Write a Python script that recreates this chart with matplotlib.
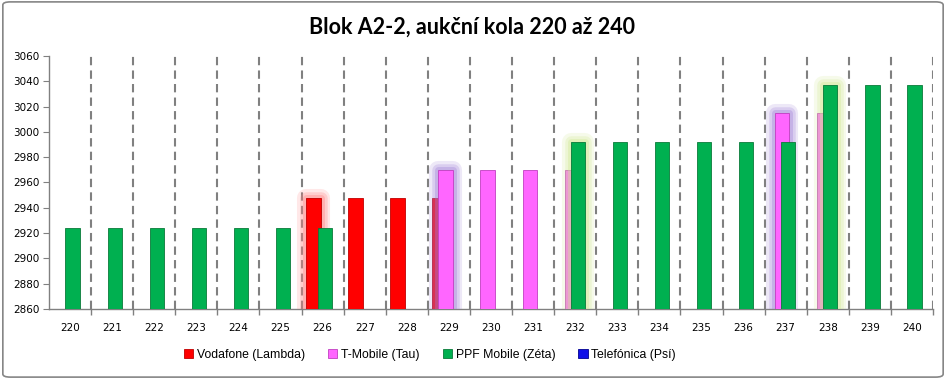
import numpy as np
import matplotlib.pyplot as plt
import matplotlib.patheffects as pe
from matplotlib.patches import FancyBboxPatch

# aukční kola
kola = list(range(220, 241))

nan = np.nan
vodafone = [nan]*6 + [2948, 2948, 2948, 2948] + [nan]*11
tmobile = [nan]*9 + [2970, 2970, 2970, 2970] + [nan]*4 + [3015, 3015] + [nan]*2
ppf = [2924]*7 + [nan]*5 + [2992]*6 + [3037]*3
telefonica = [nan]*21

# kola, kde je sloupec zvýrazněný (nový vedoucí)
hl_vodafone = [226]
hl_tmobile = [229, 237]
hl_ppf = [232, 238]

serie = [
    ("Vodafone (Lambda)", vodafone, hl_vodafone, "#ff0000", "#c00000", "#ff8080"),
    ("T-Mobile (Tau)", tmobile, hl_tmobile, "#ff66ff", "#c040c0", "#a080d8"),
    ("PPF Mobile (Zéta)", ppf, hl_ppf, "#00b050", "#0a7a3a", "#cfe890"),
    ("Telefónica (Psí)", telefonica, [], "#1010e8", "#000090", "#9999ff"),
]
offsets = [-0.22, -0.08, 0.06, 0.20]
sirka = 0.34

fig = plt.figure(figsize=(9.46, 3.79), dpi=100)
ax = fig.add_axes([49/946, 1-309/379, (933-49)/946, (309-56)/379])

x = np.arange(len(kola))
for i, (nazev, vals, hl, barva, okraj, glow) in enumerate(serie):
    bars = ax.bar(x + offsets[i], vals, width=sirka, bottom=0, color=barva,
                  edgecolor=okraj, linewidth=0.6, label=nazev, zorder=3 + i)
    for b, k in zip(bars, kola):
        if k in hl:
            b.set_path_effects([
                pe.Stroke(linewidth=13, foreground=glow, alpha=0.18, joinstyle='round'),
                pe.Stroke(linewidth=9, foreground=glow, alpha=0.25, joinstyle='round'),
                pe.Stroke(linewidth=5, foreground=glow, alpha=0.35, joinstyle='round'),
                pe.Normal()])

ax.set_ylim(2860, 3060)
ax.set_yticks(range(2860, 3061, 20))
ax.set_xlim(-0.5, len(kola) - 0.5)
ax.set_xticks(x)
ax.set_xticklabels([str(k) for k in kola])
ax.set_xticks(np.arange(0.5, len(kola), 1), minor=True)
ax.tick_params(axis='x', which='major', length=0, labelsize=7.5, pad=10)
ax.tick_params(axis='x', which='minor', length=4, color='#808080', width=1)
ax.tick_params(axis='y', length=4, color='#808080', labelsize=7.5, pad=3)
ax.grid(axis='x', which='minor', linestyle=(0, (4, 2.5)), color='#808080',
        linewidth=1.5, zorder=1)
ax.grid(axis='x', which='major', visible=False)
ax.set_axisbelow(True)
for s in ['top', 'right']:
    ax.spines[s].set_visible(False)
for s in ['left', 'bottom']:
    ax.spines[s].set_color('#808080')
    ax.spines[s].set_linewidth(1)

fig.text(472/946, 1-27/379, "Blok A2-2, aukční kola 220 až 240", ha='center',
         va='center', fontsize=15.5, fontweight='bold', family='Lato')

fig.legend(loc='center', bbox_to_anchor=(430/946, 1-355/379), ncol=4, frameon=False,
           prop={'family': 'Liberation Sans', 'size': 8.8},
           handlelength=0.75, handleheight=0.75, handletextpad=0.3,
           columnspacing=1.9, borderaxespad=0)

fig.patches.append(FancyBboxPatch((0.003, 0.005), 0.994, 0.99,
                                  boxstyle="round,pad=0,rounding_size=0.008",
                                  transform=fig.transFigure, fill=False,
                                  edgecolor='#868686', linewidth=1.2))

plt.savefig("out.png", dpi=100)
